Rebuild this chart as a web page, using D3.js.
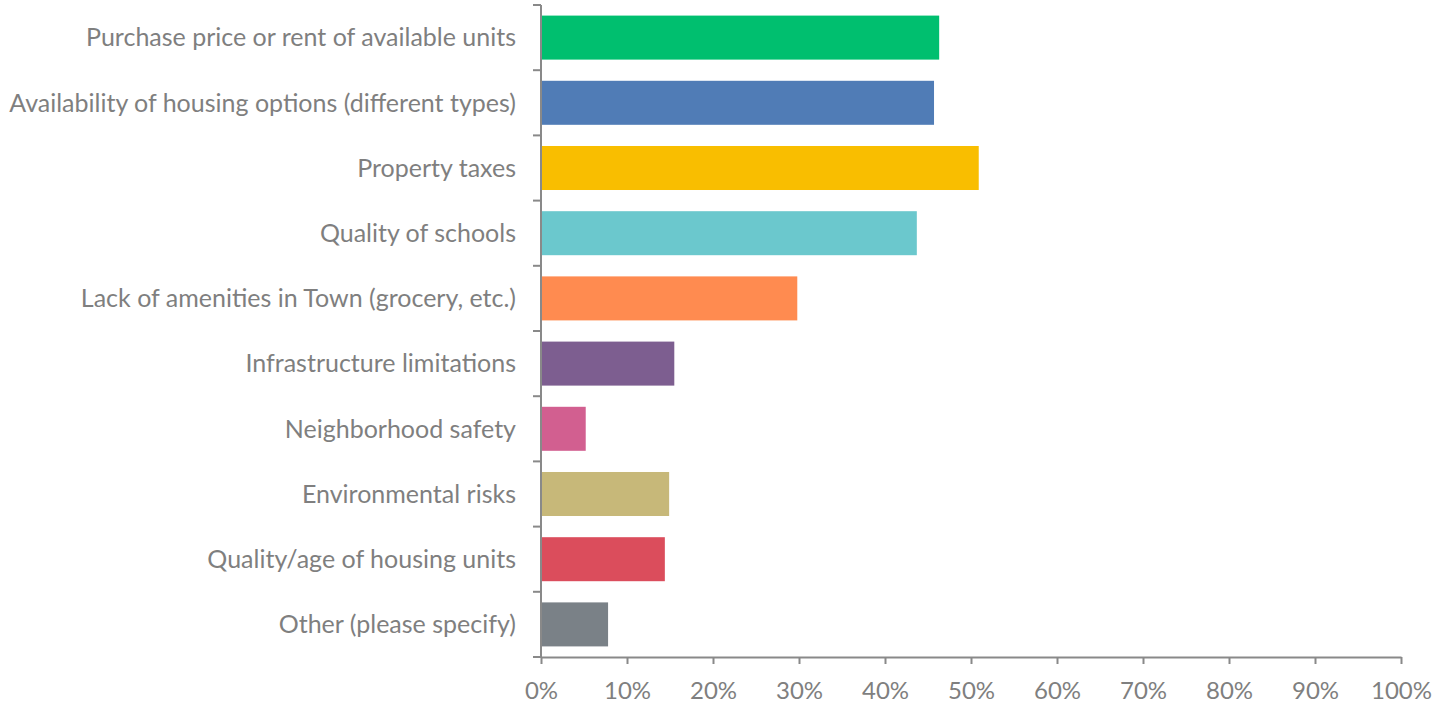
<!DOCTYPE html>
<html>
<head>
<meta charset="utf-8">
<script src="https://cdn.jsdelivr.net/npm/d3@7"></script>
<style>
  html, body { margin: 0; padding: 0; background: #fff; }
  svg text { font-family: Lato, "Open Sans", sans-serif; fill: #7f7f7f; }
</style>
</head>
<body>
<svg id="chart" width="1441" height="704"></svg>
<script>
const categories = [
  "Purchase price or rent of available units",
  "Availability of housing options (different types)",
  "Property taxes",
  "Quality of schools",
  "Lack of amenities in Town (grocery, etc.)",
  "Infrastructure limitations",
  "Neighborhood safety",
  "Environmental risks",
  "Quality/age of housing units",
  "Other (please specify)"
];
const values = [0.463, 0.457, 0.509, 0.437, 0.298, 0.155, 0.052, 0.149, 0.144, 0.078];
const colors = ["#00BF6F", "#507CB6", "#F9BE00", "#6BC8CD", "#FF8B50",
                "#7D5E90", "#D25F90", "#C7B879", "#DB4D5C", "#7A8187"];
const xTicks = [0, 0.1, 0.2, 0.3, 0.4, 0.5, 0.6, 0.7, 0.8, 0.9, 1.0];

const svg = d3.select("#chart");
const plot = { left: 541, right: 1401, top: 5, bottom: 657 };

const x = d3.scaleLinear().domain([0, 1]).range([plot.left, plot.right]);
const y = d3.scaleBand().domain(categories).range([plot.top, plot.bottom])
  .paddingInner(0.325).paddingOuter(0.1625);

// bars
svg.append("g").selectAll("rect").data(categories).join("rect")
  .attr("x", x(0))
  .attr("y", d => y(d))
  .attr("width", (d, i) => x(values[i]) - x(0))
  .attr("height", y.bandwidth())
  .attr("fill", (d, i) => colors[i]);

const axisColor = "#898989";

// category axis: ticks at band boundaries
const yAxis = svg.append("g");
yAxis.append("line")
  .attr("x1", plot.left).attr("x2", plot.left).attr("y1", plot.top).attr("y2", plot.bottom)
  .attr("stroke", axisColor).attr("stroke-width", 2);
const bounds = categories.map(d => y(d) - y.step() * y.paddingInner() / 2);
bounds.push(plot.bottom);
yAxis.selectAll("line.tick").data(bounds).join("line")
  .attr("class", "tick")
  .attr("x1", plot.left - 8).attr("x2", plot.left)
  .attr("y1", d => d).attr("y2", d => d)
  .attr("stroke", axisColor).attr("stroke-width", 2);
yAxis.selectAll("text").data(categories).join("text")
  .attr("x", plot.left - 25)
  .attr("y", d => y(d) + y.bandwidth() / 2)
  .attr("dy", "0.35em")
  .attr("text-anchor", "end")
  .attr("font-size", 25)
  .text(d => d);

// value axis
const xAxis = svg.append("g").attr("transform", `translate(0,${plot.bottom})`)
  .call(d3.axisBottom(x).tickValues(xTicks).tickFormat(d3.format(".0%"))
    .tickSize(7).tickPadding(18).tickSizeOuter(0));
xAxis.select(".domain").attr("stroke", axisColor).attr("stroke-width", 2);
xAxis.selectAll(".tick line").attr("stroke", axisColor).attr("stroke-width", 2);
xAxis.selectAll(".tick text").attr("font-size", 24)
  .attr("font-family", "Lato, 'Open Sans', sans-serif").attr("fill", "#7f7f7f");
</script>
</body>
</html>
